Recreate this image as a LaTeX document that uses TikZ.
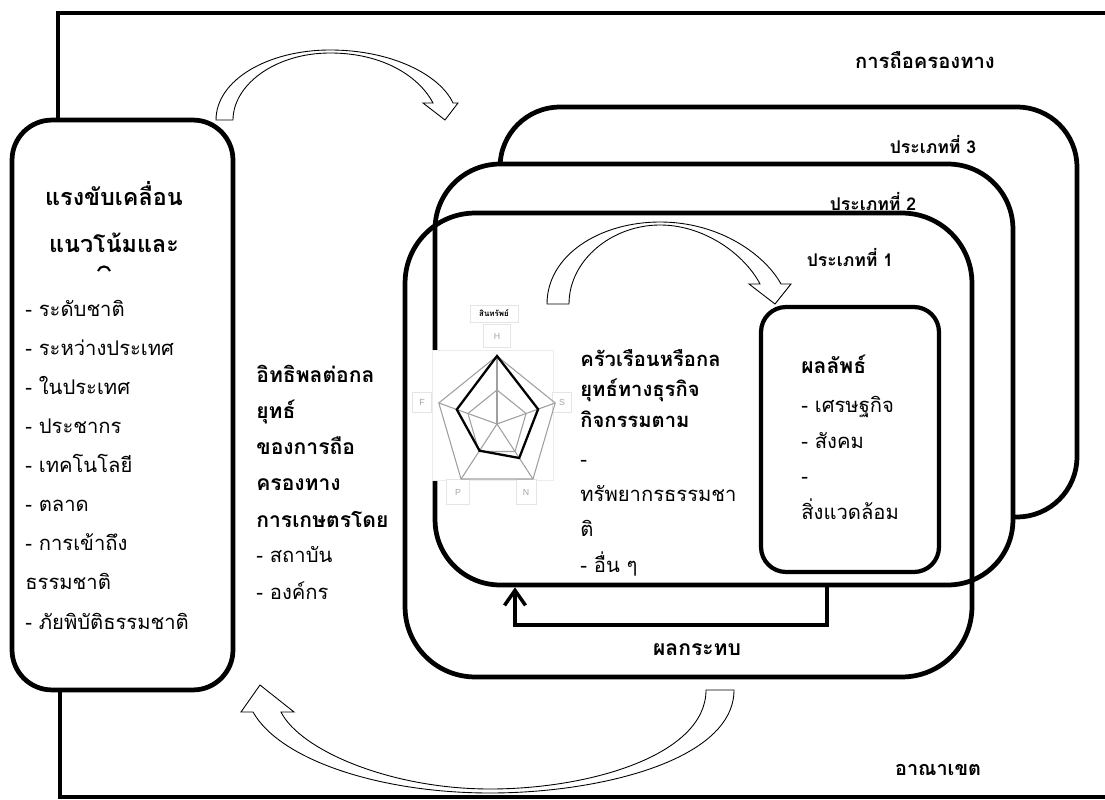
\documentclass[tikz,border=0pt]{standalone}
\usepackage{fontspec}
\newfontfamily\thaifont[Script=Thai]{Loma}
\setsansfont{Liberation Sans}
\usetikzlibrary{arrows.meta,calc}

\tikzset{
  frame/.style={line width=2.2pt},
  zonebox/.style={draw, rectangle, line width=2.7pt, inner sep=0pt},
  curvearrow/.style={draw, fill=white, line width=0.5pt},
  feedback/.style={line width=2pt, -{Straight Barb[length=0.3cm,width=0.42cm]}},
  radargrid/.style={gray!75, line width=0.6pt},
  lblbox/.style={draw=gray!20, fill=white, inner sep=0pt, text=gray!70, font=\sffamily\fontsize{5}{6}\selectfont},
  thtext/.style={inner sep=0pt, align=left, font=\thaifont\fontsize{11.5}{22.25}\selectfont},
  thbold/.style={inner sep=0pt, align=left, font=\thaifont\bfseries\fontsize{12}{20.6}\selectfont},
  thlabel/.style={inner sep=0pt, font=\thaifont\bfseries\fontsize{10}{12}\selectfont}
}

\begin{document}
\begin{tikzpicture}[x=0.02cm, y=-0.02cm]
\useasboundingbox (0,0) rectangle (1105,800);

%%Boxes
\node[zonebox, rounded corners=0.8cm, minimum width=4.42cm, minimum height=11.4cm] (drive) at (122.5,405) {};
\node[zonebox, fill=white, rounded corners=1.2cm, minimum width=11.54cm, minimum height=8.2cm] (type3) at (788.5,312) {};
\node[zonebox, fill=white, rounded corners=1.3cm, minimum width=11.56cm, minimum height=8.42cm] (type2) at (724,374.5) {};
\node[zonebox, rounded corners=1.4cm, minimum width=11.34cm, minimum height=9.28cm] (type1) at (688.5,445) {};

%%Frame
\coordinate (ftl) at (58,13);
\coordinate (fbl) at (60,797);
\draw[frame] (ftl |- drive.north) -- (ftl) -- (1105,13);
\draw[frame] (fbl |- drive.south) -- (fbl) -- (1105,797);

%%Radar
\draw[gray!15, fill=white] (432,350) rectangle (553,480);
\node[lblbox, minimum width=0.96cm, minimum height=0.34cm, text=black] (assets) at (494,313.5) {\thaifont\bfseries\fontsize{4.5}{5}\selectfont สินทรัพย์};
\node[lblbox, minimum width=0.54cm, minimum height=0.46cm] (axh) at (497,336) {H};
\node[lblbox, minimum width=0.38cm, minimum height=0.4cm] (axf) at (422,402) {F};
\node[lblbox, minimum width=0.38cm, minimum height=0.4cm] (axs) at (562,402) {S};
\node[lblbox, minimum width=0.46cm, minimum height=0.5cm] (axp) at (458,492) {P};
\node[lblbox, minimum width=0.4cm, minimum height=0.5cm] (axn) at (526,492) {N};
\begin{scope}[shift={(497,424)}, xscale=0.9]
\draw[radargrid] (-90:68) \foreach \a in {-18,54,126,198} {-- (\a:68)} -- cycle;
\draw[radargrid] (-90:34) \foreach \a in {-18,54,126,198} {-- (\a:34)} -- cycle;
\foreach \a in {-90,-18,54,126,198}
  \draw[radargrid] (0,0) -- (\a:68);
\draw[line width=1.3pt] (-90:68) -- (-18:48) -- (54:42) -- (126:33) -- (198:47) -- cycle;
\end{scope}

%%Result
\node[zonebox, fill=white, line width=2.4pt, rounded corners=0.5cm, minimum width=3.56cm, minimum height=5.3cm] (result) at (850,439.5) {};

%%Curved arrows
\draw[curvearrow] (216,120) .. controls (216,80) and (268,50) .. (330,50)
  .. controls (392,50) and (440,75) .. (453,103) -- (458,103) -- (445,120) -- (423,103) -- (433,103)
  .. controls (420,78) and (385,53) .. (330,53) .. controls (275,53) and (233,85) .. (233,120) -- cycle;
\draw[curvearrow] (547,304) .. controls (547,255) and (600,222) .. (660,222)
  .. controls (720,222) and (765,255) .. (781,284) -- (791,284) -- (775,304) -- (749,284) -- (760,284)
  .. controls (745,255) and (705,225) .. (660,225) .. controls (612,225) and (569,260) .. (569,304) -- cycle;
\draw[curvearrow] (734,690) .. controls (734,760) and (600,793) .. (490,793)
  .. controls (380,793) and (280,760) .. (253,712) -- (241,712) -- (260,685) -- (294,712) -- (281,712)
  .. controls (300,750) and (390,789) .. (490,789) .. controls (590,789) and (706,755) .. (706,690) -- cycle;

%%Feedback
\coordinate (fbr) at (827,625);
\coordinate (fbl2) at (515,625);
\draw[feedback] (type2.south -| fbr) -- (fbr) -- (fbl2) -- (type2.south -| fbl2);

%%Label
\node[thbold, align=center, anchor=base, font=\thaifont\bfseries\fontsize{13.3}{27.2}\selectfont] (drivetitle) at (114,253) {แรงขับเคลื่อน\\แนวโน้มและ};
\draw[line width=1.2pt] (98,271) .. controls (100,265) and (108,265) .. (110,271);
\node[thtext, anchor=base west] (drivelist) at (25,629) {- ระดับชาติ\\- ระหว่างประเทศ\\- ในประเทศ\\- ประชากร\\- เทคโนโลยี\\- ตลาด\\- การเข้าถึง\\ธรรมชาติ\\- ภัยพิบัติธรรมชาติ};
\node[thbold, anchor=base west] (influence) at (256,527) {อิทธิพลต่อกล\\ยุทธ์\\ของการถือ\\ครองทาง\\การเกษตรโดย};
\node[thtext, anchor=base west, font=\thaifont\fontsize{11.5}{20.6}\selectfont] (influencelist) at (256,599) {- สถาบัน\\- องค์กร};
\node[thbold, anchor=base west, font=\thaifont\bfseries\fontsize{11.5}{17.3}\selectfont] (household) at (580,427) {ครัวเรือนหรือกล\\ยุทธ์ทางธุรกิจ\\กิจกรรมตาม};
\node[thtext, anchor=base west, font=\thaifont\fontsize{11.5}{20}\selectfont] (householdlist) at (580,572) {-\\ทรัพยากรธรรมชา\\ติ\\- อื่น ๆ};
\node[thbold, anchor=base west] (resulttitle) at (801,374) {ผลลัพธ์};
\node[thtext, anchor=base west, font=\thaifont\fontsize{11.5}{20.2}\selectfont] (resultlist) at (801,519) {- เศรษฐกิจ\\- สังคม\\-\\สิ่งแวดล้อม};
\node[thlabel, font=\thaifont\bfseries\fontsize{11.5}{13}\selectfont] (holding) at (925,60) {การถือครองทาง};
\node[thlabel] (lbl3) at (933,145) {ประเภทที่ 3};
\node[thlabel] (lbl2) at (873,202) {ประเภทที่ 2};
\node[thlabel] (lbl1) at (850,258) {ประเภทที่ 1};
\node[thlabel, font=\thaifont\bfseries\fontsize{12}{13}\selectfont] (impact) at (697,650) {ผลกระทบ};
\node[thlabel, font=\thaifont\bfseries\fontsize{11.3}{13}\selectfont] (territory) at (938,770) {อาณาเขต};
\end{tikzpicture}
\end{document}
